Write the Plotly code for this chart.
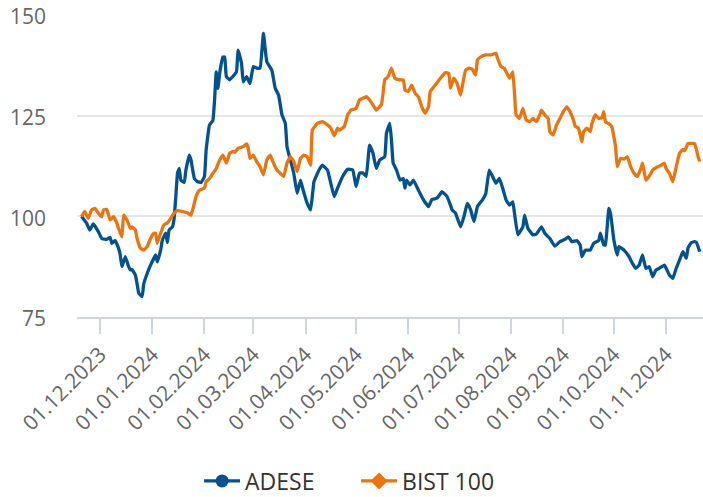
import pandas as pd
import plotly.graph_objects as go

BASE_DATE = "2023-12-01"

# day offsets from 01.12.2023 and normalised values (start = 100)
adese_days = [-11, -8, -6, -4, -1, 1, 4, 6, 7, 9, 11, 12, 13, 15, 17, 18, 19, 21, 22, 23,
              25, 26, 28, 30, 32, 33, 34, 36, 37, 39, 40, 41, 43, 44, 45, 46, 47, 48, 50, 51,
              53, 54, 56, 58, 60, 62, 63, 65, 67, 68, 69, 70, 71, 73, 74, 75, 77, 79, 81, 82,
              84, 85, 87, 89, 91, 93, 95, 97, 99, 102, 104, 106, 108, 110, 111, 113, 115, 117, 119, 120,
              123, 125, 127, 130, 132, 135, 137, 139, 141, 144, 147, 150, 152, 154, 156, 158, 160, 162, 164, 166,
              169, 170, 172, 173, 174, 176, 178, 180, 181, 182, 184, 186, 189, 192, 195, 197, 200, 203, 206, 208,
              209, 211, 214, 216, 218, 220, 222, 224, 227, 229, 231, 233, 235, 237, 239, 241, 243, 245, 246, 248,
              251, 252, 254, 257, 259, 262, 264, 267, 270, 273, 276, 278, 280, 283, 285, 286, 288, 291, 293, 296,
              297, 299, 300, 302, 303, 305, 307, 308, 311, 314, 316, 318, 320, 322, 324, 326, 328, 330, 332, 335,
              336, 338, 340, 342, 344, 346, 348, 349, 351, 353, 354, 356]
adese_values = [100.0, 98.3, 96.6, 98.1, 96.2, 94.5, 94.3, 94.8, 93.3, 94.0, 92.1, 90.4, 87.5, 90.0, 87.5, 86.7, 86.8, 85.4, 83.3, 80.9,
                80.1, 83.3, 85.8, 87.9, 89.6, 90.4, 88.7, 91.6, 94.1, 95.8, 93.5, 96.6, 97.4, 99.5, 104.9, 110.7, 111.9, 109.0, 108.4, 111.5,
                115.2, 114.0, 109.4, 108.6, 108.4, 109.9, 116.5, 122.7, 123.8, 128.9, 135.9, 131.8, 135.5, 139.6, 139.6, 134.7, 133.9, 134.8, 135.9, 141.3,
                138.0, 133.4, 134.7, 133.0, 137.2, 136.8, 136.8, 145.4, 138.4, 136.3, 131.8, 130.1, 125.2, 123.1, 117.3, 114.0, 110.7, 105.7, 109.0, 107.4,
                103.2, 101.6, 108.6, 111.5, 112.7, 111.5, 108.2, 104.9, 107.0, 109.9, 111.7, 111.5, 107.4, 110.7, 110.8, 109.9, 117.7, 115.7, 111.9, 114.0,
                114.8, 120.6, 123.1, 119.0, 113.2, 111.5, 109.0, 109.4, 107.0, 109.0, 107.8, 109.0, 106.5, 104.1, 102.4, 104.2, 104.5, 106.1, 104.9, 102.8,
                101.6, 100.8, 97.4, 99.9, 103.2, 101.6, 98.7, 102.4, 104.1, 105.7, 111.5, 109.9, 108.2, 109.4, 107.0, 104.1, 102.8, 103.6, 100.8, 95.4,
                97.4, 100.3, 97.0, 95.4, 95.6, 97.4, 95.8, 94.5, 92.6, 93.7, 94.3, 94.9, 93.7, 94.0, 92.9, 90.0, 91.6, 91.6, 93.3, 94.0,
                95.8, 92.9, 92.9, 102.0, 100.8, 94.1, 90.4, 92.5, 91.6, 90.0, 88.3, 87.1, 87.9, 90.4, 87.1, 87.5, 85.0, 86.7, 87.1, 87.9,
                87.1, 85.4, 84.6, 87.1, 89.2, 91.2, 89.6, 92.1, 93.5, 93.7, 93.5, 91.2]

bist_days = [-11, -9, -7, -5, -3, -1, 1, 2, 4, 6, 8, 10, 11, 13, 14, 16, 18, 19, 21, 22,
             24, 26, 28, 30, 32, 33, 34, 36, 38, 40, 42, 44, 46, 49, 52, 54, 55, 57, 59, 62,
             63, 65, 67, 69, 71, 73, 75, 77, 79, 80, 82, 85, 87, 88, 89, 91, 93, 95, 97, 99,
             101, 103, 105, 107, 109, 111, 113, 115, 117, 119, 121, 123, 125, 126, 129, 132, 135, 137, 139, 141,
             142, 145, 147, 149, 152, 154, 156, 158, 160, 162, 164, 167, 168, 169, 171, 173, 175, 178, 180, 181,
             183, 185, 187, 189, 191, 193, 195, 196, 199, 202, 205, 207, 208, 210, 212, 214, 215, 217, 219, 221,
             223, 224, 226, 229, 232, 235, 236, 238, 240, 241, 243, 245, 246, 247, 249, 251, 253, 255, 257, 259,
             261, 262, 264, 266, 267, 269, 271, 273, 275, 277, 279, 281, 282, 284, 286, 287, 289, 291, 292, 294,
             296, 298, 299, 300, 303, 304, 306, 307, 309, 311, 313, 315, 317, 319, 321, 322, 324, 325, 327, 328,
             331, 333, 335, 336, 338, 340, 342, 344, 346, 347, 349, 351, 353, 355, 356]
bist_values = [100.0, 101.2, 99.5, 101.6, 102.0, 100.8, 99.9, 101.6, 101.7, 99.1, 99.9, 98.3, 97.0, 94.9, 100.3, 99.1, 97.0, 97.4, 96.6, 94.5,
               92.1, 91.6, 92.5, 94.5, 95.8, 95.8, 93.3, 95.8, 97.9, 98.4, 99.5, 100.8, 101.4, 101.2, 100.8, 100.3, 101.6, 104.9, 106.5, 107.0,
               108.6, 109.4, 110.7, 111.9, 114.0, 115.2, 113.2, 115.7, 116.1, 115.9, 116.9, 117.3, 118.0, 116.9, 114.4, 115.2, 113.6, 112.3, 110.3, 114.0,
               115.2, 113.2, 111.5, 110.7, 109.9, 113.2, 114.8, 113.6, 111.1, 114.4, 115.2, 114.8, 112.7, 121.4, 123.1, 123.5, 122.7, 121.9, 120.0, 121.9,
               121.4, 122.3, 125.2, 126.4, 126.8, 128.9, 129.3, 129.7, 128.9, 127.7, 126.4, 127.7, 130.6, 133.9, 134.7, 136.8, 134.3, 133.9, 133.9, 131.4,
               131.0, 132.6, 130.6, 129.7, 127.2, 125.6, 127.2, 131.0, 132.6, 134.3, 135.7, 135.5, 131.8, 134.3, 133.0, 130.1, 132.2, 136.3, 136.8, 136.5,
               135.1, 138.8, 139.6, 140.1, 140.1, 140.5, 139.2, 137.2, 136.8, 135.9, 134.3, 135.9, 130.6, 125.2, 124.3, 126.8, 123.9, 123.5, 124.3, 123.5,
               125.2, 126.4, 125.2, 124.3, 121.0, 120.2, 122.7, 124.3, 126.0, 127.2, 126.0, 123.9, 122.4, 121.9, 118.5, 121.0, 121.9, 121.0, 123.1, 125.2,
               124.3, 124.5, 126.0, 123.5, 122.7, 121.9, 117.3, 112.3, 114.4, 114.2, 114.8, 112.3, 110.7, 109.9, 111.9, 113.2, 109.0, 109.4, 110.7, 111.5,
               112.3, 112.7, 113.2, 111.9, 110.7, 108.6, 112.3, 115.7, 116.6, 116.3, 118.1, 118.1, 118.0, 114.8, 113.6]

series_names = ["ADESE", "BIST 100"]
series_colors = ["#02528f", "#ed730d"]
legend_symbols = ["circle", "diamond"]
y_ticks = [75, 100, 125, 150]
x_tick_dates = pd.date_range("2023-12-01", "2024-11-01", freq="MS")

base = pd.Timestamp(BASE_DATE)
adese_x = base + pd.to_timedelta(adese_days, unit="D")
bist_x = base + pd.to_timedelta(bist_days, unit="D")

FONT = "Open Sans, Noto Sans, sans-serif"

fig = go.Figure()
for name, xs, ys, color in [(series_names[0], adese_x, adese_values, series_colors[0]),
                            (series_names[1], bist_x, bist_values, series_colors[1])]:
    fig.add_trace(go.Scatter(x=xs, y=ys, mode="lines", name=name, showlegend=False,
                             line=dict(color=color, width=3.3, shape="spline", smoothing=0.3)))
# legend entries (line + marker)
for name, color, sym in zip(series_names, series_colors, legend_symbols):
    fig.add_trace(go.Scatter(x=[None], y=[None], mode="lines+markers", name=name,
                             line=dict(color=color, width=3.3),
                             marker=dict(symbol=sym, size=13, color=color)))

fig.update_layout(
    width=703, height=525,
    margin=dict(l=77, r=0, t=15, b=208, autoexpand=False),
    paper_bgcolor="white", plot_bgcolor="white",
    font=dict(family=FONT, color="#666666"),
    showlegend=True,
    legend=dict(orientation="h", x=0.195, xanchor="left", y=-0.543, yanchor="middle",
                font=dict(size=23, color="#333333", family=FONT), itemwidth=36,
                entrywidth=106, entrywidthmode="pixels",
                traceorder="normal"),
)
fig.update_xaxes(
    type="date", automargin=False,
    range=[base - pd.Timedelta(days=13.65), base + pd.Timedelta(days=357.9)],
    tickvals=x_tick_dates, ticktext=[d.strftime("%d.%m.%Y") for d in x_tick_dates],
    tickangle=-45, tickfont=dict(size=21, color="#666666"),
    ticks="outside", ticklen=15, tickwidth=2, tickcolor="#ccd6eb",
    showline=True, linecolor="#ccd6eb", linewidth=2,
    showgrid=False, zeroline=False,
)
fig.update_yaxes(
    range=[75, 150], tickvals=y_ticks, automargin=False,
    tickfont=dict(size=21, color="#666666"), ticklabeloverflow="allow",
    ticklabelshift=2,
    showgrid=True, gridcolor="#e6e6e6", gridwidth=2,
    zeroline=False, showline=False, ticks="", ticklabelstandoff=30,
)

# remove the default 8px page margin so the chart sits at the window's top-left
fig.write_html("out.html", config={"displayModeBar": False},
               post_script="document.body.style.margin='0';document.body.style.overflow='hidden';")
